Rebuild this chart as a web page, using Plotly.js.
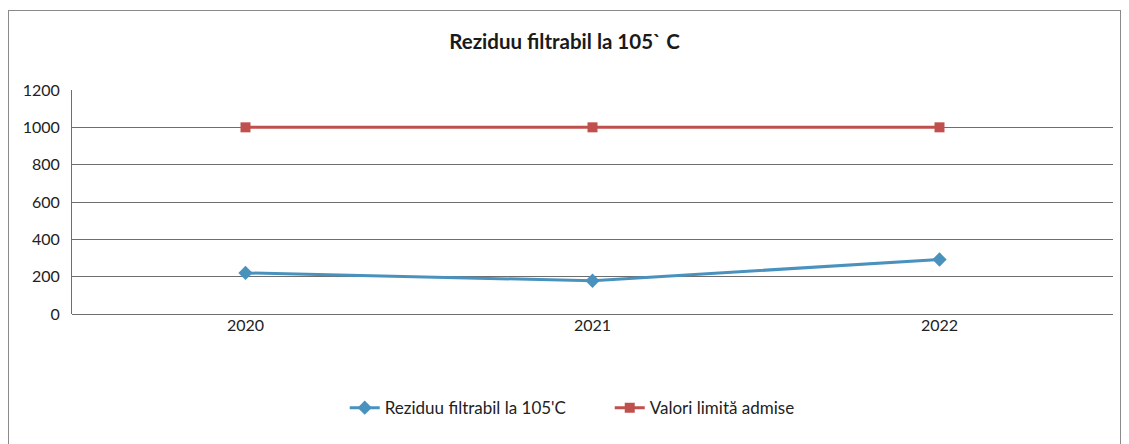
<!DOCTYPE html>
<html>
<head>
<meta charset="utf-8">
<script src="https://cdn.plot.ly/plotly-3.0.1.min.js"></script>
<style>
  html, body { margin: 0; padding: 0; background: #fff; }
  #chart { width: 1129px; height: 444px; }
  #frame { position: absolute; left: 8px; top: 10px; width: 1111px; height: 440px; border: 1px solid #8a8a8a; pointer-events: none; }
</style>
</head>
<body>
<div id="chart"></div>
<div id="frame"></div>
<script>
const years = ['2020', '2021', '2022'];
const reziduu = [220, 178, 292];
const limita = [1000, 1000, 1000];
const yTicks = [0, 200, 400, 600, 800, 1000, 1200];

const font = "Lato, 'Open Sans', sans-serif";

const traces = [
  {
    x: years, y: reziduu, name: "Reziduu filtrabil la 105'C",
    type: 'scatter', mode: 'lines+markers',
    line: { color: '#4A92BE', width: 3 },
    marker: { symbol: 'diamond', size: 11, color: '#4A92BE' }
  },
  {
    x: years, y: limita, name: 'Valori limită admise',
    type: 'scatter', mode: 'lines+markers',
    line: { color: '#C0504D', width: 3 },
    marker: { symbol: 'square', size: 10, color: '#C0504D' }
  }
];

const layout = {
  width: 1129, height: 444,
  margin: { l: 72, r: 16, t: 90, b: 130 },
  paper_bgcolor: '#fff', plot_bgcolor: '#fff',
  title: { text: 'Reziduu filtrabil la 105` C', font: { family: font, size: 20.5, color: '#1a1a1a', weight: 'bold' }, x: 0.5, xanchor: 'center', y: 0.905, yanchor: 'middle' },
  xaxis: {
    type: 'category', range: [-0.5, 2.5],
    showgrid: false, zeroline: false,
    showline: false,
    tickfont: { family: font, size: 16, color: '#222' },
    ticks: '', ticklen: 0
  },
  yaxis: {
    range: [0, 1200], tickvals: yTicks, ticktext: yTicks.map(String),
    showgrid: true, gridcolor: '#6e6e6e', gridwidth: 1,
    zeroline: true, zerolinecolor: '#6e6e6e', zerolinewidth: 1,
    showline: true, linecolor: '#6e6e6e', linewidth: 1,
    tickfont: { family: font, size: 16, color: '#222' },
    ticks: '', ticklabelstandoff: 8
  },
  showlegend: true,
  legend: {
    orientation: 'h', x: 0.262, xanchor: 'left', y: -0.42, yanchor: 'middle',
    font: { family: font, size: 17, color: '#222' },
    entrywidth: 220, entrywidthmode: 'pixels', tracegroupgap: 0
  }
};

Plotly.newPlot('chart', traces, layout, { displayModeBar: false, staticPlot: true });
</script>
</body>
</html>
